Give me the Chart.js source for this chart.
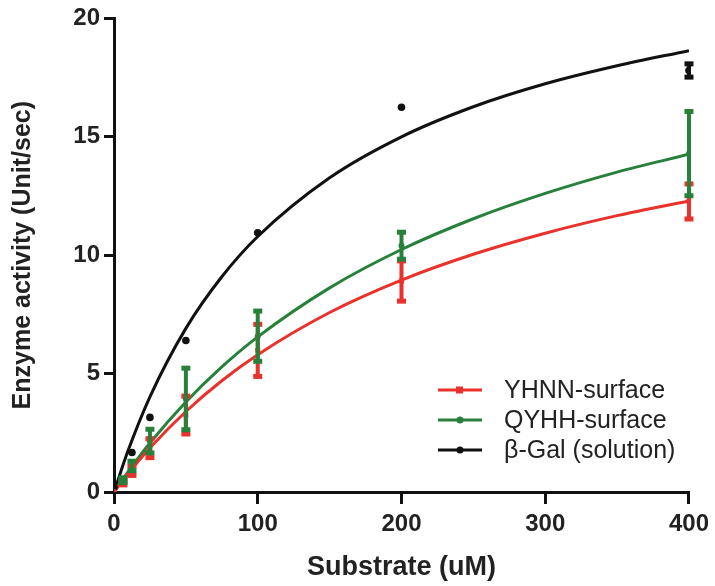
<!DOCTYPE html>
<html>
<head>
<meta charset="utf-8">
<script src="https://cdn.jsdelivr.net/npm/chart.js@4.4.1/dist/chart.umd.min.js"></script>
<style>
  html, body { margin: 0; padding: 0; background: #fff; }
  #wrap { width: 715px; height: 586px; position: relative; }
</style>
</head>
<body>
<div id="wrap"><canvas id="grafico"></canvas></div>
<script>
// measured points
const substrato = [0, 6.25, 12.5, 25, 50, 100, 200, 400];
const yhnnMedia = [0, 0.4, 0.9, 1.85, 3.25, 5.98, 8.91, 12.27];
const yhnnErro = [0, 0.1, 0.2, 0.4, 0.8, 1.1, 0.85, 0.74];
const qyhhMedia = [0, 0.5, 1.1, 2.15, 3.93, 6.58, 10.4, 14.29];
const qyhhErro = [0, 0.1, 0.2, 0.5, 1.3, 1.06, 0.57, 1.78];
const galMedia = [0.2, 0.5, 1.67, 3.15, 6.4, 10.95, 16.25, 17.8];
const galErro = [0, 0, 0, 0, 0, 0, 0, 0.28];

// fitted curves
const curvaX = [0, 10, 25, 50, 75, 100, 150, 200, 250, 300, 350, 400];
const curvaYhnn = [0, 0.79, 1.86, 3.4, 4.7, 5.8, 7.58, 8.95, 10.04, 10.93, 11.67, 12.29];
const curvaQyhh = [0, 0.87, 2.07, 3.8, 5.28, 6.55, 8.62, 10.24, 11.54, 12.61, 13.51, 14.26];
const curvaGal = [0, 1.78, 4.02, 6.91, 9.09, 10.79, 13.27, 15.0, 16.27, 17.24, 18.0, 18.64];

const xTicks = [0, 100, 200, 300, 400];
const yTicks = [0, 5, 10, 15, 20];

const VERMELHO = '#e8322b';
const VERDE = '#27813b';
const PRETO = '#111111';
const FONTE = 'Liberation Sans, Arial, sans-serif';

const pontos = (ys) => substrato.map((x, k) => ({ x, y: ys[k] }));
const curva = (ys) => curvaX.map((x, k) => ({ x, y: ys[k] }));

const series = [
  { label: 'YHNN-surface', cor: VERMELHO, media: yhnnMedia, erro: yhnnErro, curva: curvaYhnn, estilo: 'rect', raio: 3.5 },
  { label: 'QYHH-surface', cor: VERDE, media: qyhhMedia, erro: qyhhErro, curva: curvaQyhh, estilo: 'circle', raio: 3 },
  { label: 'β-Gal (solution)', cor: PRETO, media: galMedia, erro: galErro, curva: curvaGal, estilo: 'circle', raio: 3.8 },
];

const datasets = [];
series.forEach(s => {
  datasets.push({
    type: 'line', label: s.label, data: curva(s.curva),
    borderColor: s.cor, borderWidth: 3, pointRadius: 0,
    cubicInterpolationMode: 'monotone', fill: false, order: 2,
  });
  datasets.push({
    type: 'scatter', label: s.label + ' pts', data: pontos(s.media), erros: s.erro,
    backgroundColor: s.cor, borderColor: s.cor, pointStyle: s.estilo,
    pointRadius: s.raio, borderWidth: 0, order: 1,
  });
});

const errorBars = {
  id: 'errorBars',
  afterDatasetsDraw(chart) {
    const { ctx, scales: { x, y } } = chart;
    ctx.save();
    chart.data.datasets.forEach(ds => {
      if (!ds.erros) return;
      ctx.strokeStyle = ds.borderColor;
      ctx.fillStyle = ds.borderColor;
      ctx.lineWidth = 4;
      ds.data.forEach((p, k) => {
        const e = ds.erros[k];
        if (!e) return;
        const px = x.getPixelForValue(p.x);
        const top = y.getPixelForValue(p.y + e);
        const bot = y.getPixelForValue(p.y - e);
        ctx.beginPath();
        ctx.moveTo(px, top); ctx.lineTo(px, bot);
        ctx.stroke();
        ctx.fillRect(px - 4.5, top - 2.5, 9, 5);
        ctx.fillRect(px - 4.5, bot - 2.5, 9, 5);
      });
    });
    ctx.restore();
  },
};

const legenda = {
  id: 'legenda',
  afterDraw(chart) {
    const { ctx } = chart;
    ctx.save();
    ctx.font = '25px ' + FONTE;
    ctx.textBaseline = 'middle';
    series.forEach((s, k) => {
      const yy = 390 + k * 30;
      ctx.strokeStyle = s.cor;
      ctx.fillStyle = s.cor;
      ctx.lineWidth = 3;
      ctx.beginPath();
      ctx.moveTo(438, yy); ctx.lineTo(482, yy);
      ctx.stroke();
      if (s.estilo === 'rect') {
        ctx.fillRect(456, yy - 3.5, 7, 7);
      } else {
        ctx.beginPath();
        ctx.arc(460, yy, 3.5, 0, Math.PI * 2);
        ctx.fill();
      }
      ctx.fillStyle = '#222';
      ctx.fillText(s.label, 504, yy + 1);
    });
    ctx.restore();
  },
};

new Chart(document.getElementById('grafico').getContext('2d'), {
  data: { datasets },
  plugins: [errorBars, legenda],
  options: {
    responsive: true,
    maintainAspectRatio: false,
    animation: false,
    layout: { padding: { top: 6, right: 6, bottom: 0, left: 0 } },
    plugins: { legend: { display: false }, tooltip: { enabled: false } },
    scales: {
      x: {
        type: 'linear', min: 0, max: 400,
        afterBuildTicks: sc => { sc.ticks = xTicks.map(v => ({ value: v })); },
        afterFit: sc => { sc.height = 94; },
        border: { display: true, color: PRETO, width: 3 },
        grid: { drawOnChartArea: false, drawTicks: true, tickLength: 12, color: PRETO, lineWidth: 3 },
        ticks: { color: '#222', padding: 6, font: { family: FONTE, size: 24, weight: 'bold' } },
        title: {
          display: true, text: 'Substrate (uM)', color: '#222',
          padding: { top: 0, bottom: 2 },
          font: { family: FONTE, size: 27, weight: 'bold' },
        },
      },
      y: {
        type: 'linear', min: 0, max: 20,
        afterBuildTicks: sc => { sc.ticks = yTicks.map(v => ({ value: v })); },
        afterFit: sc => { sc.width = 114; },
        border: { display: true, color: PRETO, width: 3 },
        grid: { drawOnChartArea: false, drawTicks: true, tickLength: 10, color: PRETO, lineWidth: 3 },
        ticks: { color: '#222', padding: 4, font: { family: FONTE, size: 24, weight: 'bold' } },
        title: {
          display: true, text: 'Enzyme activity (Unit/sec)', color: '#222',
          padding: { top: 8, bottom: 0 },
          font: { family: FONTE, size: 25, weight: 'bold' },
        },
      },
    },
  },
});
</script>
</body>
</html>
